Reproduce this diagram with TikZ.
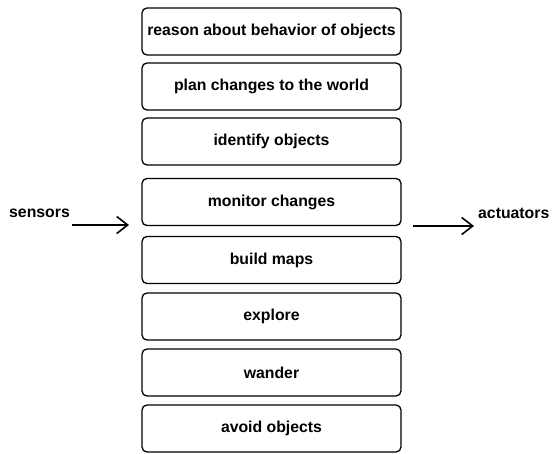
\documentclass[tikz,border=0pt]{standalone}
\usepackage{fontspec}
\setmainfont{Liberation Sans}
\usetikzlibrary{arrows.meta}
\begin{document}
\begin{tikzpicture}[x=1pt,y=-1pt,
  layer/.style={draw, line width=1.3pt, rounded corners=5pt, minimum width=259pt, minimum height=47pt, inner sep=0pt, font=\fontsize{15.8}{18}\selectfont\bfseries},
  lbl/.style={inner sep=0pt, font=\fontsize{15.8}{18}\selectfont\bfseries},
  arr/.style={line width=1.6pt, -{Straight Barb[length=11pt,width=17pt,line width=1.6pt]}}]
\useasboundingbox (0,0) rectangle (552,453);
\node[layer] (b1) at (271.5,31.5) {reason about behavior of objects};
\node[layer] (b2) at (271.5,86.5) {plan changes to the world};
\node[layer] (b3) at (271.5,141.5) {identify objects};
\node[layer] (b4) at (271.5,202) {monitor changes};
\node[layer] (b5) at (271.5,260) {build maps};
\node[layer] (b6) at (271.5,316.5) {explore};
\node[layer] (b7) at (271.5,372.5) {wander};
\node[layer] (b8) at (271.5,428.5) {avoid objects};
\node[lbl, anchor=west] (s) at (9,213) {sensors};
\node[lbl, anchor=west] (a) at (478,213) {actuators};
\coordinate (s1) at (72,225);
\coordinate (s2) at (129,225);
\coordinate (a1) at (413,226);
\coordinate (a2) at (474,226);
\draw[arr] (s1) -- (s2);
\draw[arr] (a1) -- (a2);
\end{tikzpicture}
\end{document}
